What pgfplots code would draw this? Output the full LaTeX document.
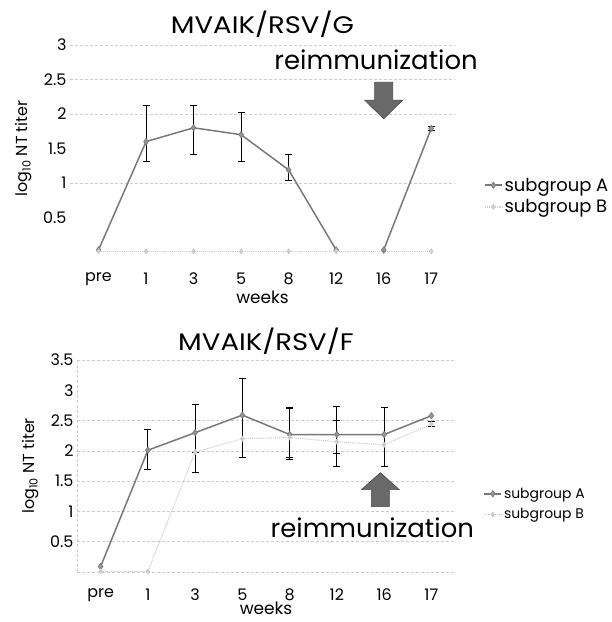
\documentclass[border=0pt]{standalone}
\usepackage{pgfplots}
\pgfplotsset{compat=1.18}
\usepackage{fontspec}
\setmainfont{Poppins}
\newfontfamily\titlefont{Poppins}[FakeStretch=1.15]
\definecolor{lineA}{RGB}{120,120,120}
\definecolor{markA}{RGB}{150,150,150}
\definecolor{lineB}{RGB}{205,205,205}
\definecolor{arrowfill}{RGB}{105,105,105}
\pgfplotsset{
  common/.style={
    scale only axis,
    ymin=0,
    xtick={0,...,7},
    xticklabels={pre,1,3,5,8,12,16,17},
    /pgf/number format/assume math mode=true,
    tick style={draw=none},
    ticklabel style={font=\fontsize{16}{16}\selectfont},
    xlabel={weeks},
    xlabel style={font=\fontsize{17}{17}\selectfont},
    ylabel={log\textsubscript{10} NT titer},
    ylabel style={font=\fontsize{16}{16}\selectfont, yshift=4bp},
    title style={font=\titlefont\fontsize{24}{24}\selectfont},
    grid style={lineB, densely dashed, line width=0.6pt},
    legend cell align=left,
    clip=false,
  },
  serA/.style={lineA, line width=1.5pt, mark=diamond*, mark size=3.2pt,
    mark options={fill=markA, draw=lineA, line width=0.6pt}},
  serB/.style={lineB, line width=1.1pt, densely dotted, mark=diamond*, mark size=2.2pt,
    mark options={fill=lineB, draw=lineB, solid}},
  errs/.style={draw=none, mark=none, forget plot,
    error bars/.cd, y dir=both, y explicit,
    error bar style={draw=black, line width=0.8pt, solid},
    error mark options={draw=black, rotate=90, mark size=3.5pt, line width=0.8pt}},
}
\begin{document}
\begin{tikzpicture}[x=1bp,y=1bp]
\useasboundingbox (0bp,0bp) rectangle (612bp,622bp);

% ---------------- Top chart ----------------
\begin{axis}[common,
  at={(70bp,370bp)}, anchor=south west,
  width=385bp, height=207bp,
  xmin=-0.6, xmax=7.5, ymax=3,
  ytick={0.5,1,1.5,2,2.5,3},
  yticklabels={0.5,1,1.5,2,2.5,3},
  extra y ticks={1,2,2.5,3},
  extra y tick labels={},
  extra y tick style={grid=major},
  axis line style={draw=none},
  xticklabel style={yshift=-17bp},
  xlabel style={yshift=1bp},
  title={MVAIK/RSV/G},
  title style={yshift=-2bp},
  legend style={draw=none, fill=none, at={(1.075,0.27)}, anchor=west,
    font=\fontsize{18}{18}\selectfont, row sep=3bp, inner sep=0pt},
]
\addplot[serA] coordinates {(0,0.03) (1,1.6) (2,1.8) (3,1.7) (4,1.19) (5,0.03)};
\addlegendentry{subgroup A}
\addplot[serB] coordinates {(0,0.01) (1,0.01) (2,0.01) (3,0.01) (4,0.01) (5,0.01) (6,0.01) (7,0.01)};
\addlegendentry{subgroup B}
\addplot[serA, forget plot] coordinates {(6,0.03) (7,1.79)};
\addplot[errs] coordinates {
  (1,1.6) += (0,0.53) -= (0,0.29)
  (2,1.8) += (0,0.33) -= (0,0.39)
  (3,1.7) += (0,0.33) -= (0,0.39)
  (4,1.19) += (0,0.23) -= (0,0.15)
  (7,1.79) += (0,0.03) -= (0,0.03)
};
\draw[fill=arrowfill, draw=arrowfill!70!black, line width=0.6pt]
  (axis cs:5.81,2.46) -- (axis cs:6.19,2.46) -- (axis cs:6.19,2.2)
  -- (axis cs:6.4,2.2) -- (axis cs:6,1.93) -- (axis cs:5.6,2.2)
  -- (axis cs:5.81,2.2) -- cycle;
\node[font=\fontsize{26}{26}\selectfont, inner sep=0pt] at (axis cs:5.84,2.78) {reimmunization};
\end{axis}

% ---------------- Bottom chart ----------------
\begin{axis}[common,
  at={(77bp,50bp)}, anchor=south west,
  width=378bp, height=212bp,
  xmin=-0.5, xmax=7.5, ymax=3.5,
  ytick={0.5,1,1.5,2,2.5,3,3.5},
  yticklabels={0.5,1,1.5,2,2.5,3,3.5},
  extra y ticks={0.5,1,1.5,2,2.5,3.5},
  extra y tick labels={},
  extra y tick style={grid=major},
  axis x line*=bottom, axis y line*=left,
  axis line style={lineB, densely dashed, line width=0.6pt, -},
  xticklabel style={yshift=-13bp},
  xlabel style={yshift=6bp},
  title={MVAIK/RSV/F},
  title style={yshift=-4bp},
  legend style={draw=none, fill=none, at={(1.075,0.32)}, anchor=west,
    font=\fontsize{14}{14}\selectfont, row sep=5bp, inner sep=0pt},
]
\addplot[serA] coordinates {(0,0.09) (1,2.01) (2,2.3) (3,2.59) (4,2.27) (5,2.27) (6,2.27) (7,2.58)};
\addlegendentry{subgroup A}
\addplot[serB] coordinates {(0,0.01) (1,0.01) (2,1.98) (3,2.2) (4,2.22) (5,2.15) (6,2.1) (7,2.44)};
\addlegendentry{subgroup B}
\addplot[errs] coordinates {
  (1,2.01) += (0,0.35) -= (0,0.32)
  (2,2.3) += (0,0.46) -= (0,0.66)
  (3,2.59) += (0,0.61) -= (0,0.70)
  (4,2.27) += (0,0.45) -= (0,0.41)
  (5,2.27) += (0,0.46) -= (0,0.52)
  (6,2.27) += (0,0.44) -= (0,0.53)
};
\addplot[errs] coordinates {
  (2,1.98) += (0,0) -= (0,0)
  (4,2.22) += (0,0.48) -= (0,0.33)
  (5,2.15) += (0,0.35) -= (0,0.2)
  (7,2.44) += (0,0.04) -= (0,0.04)
};
\draw[fill=arrowfill, draw=arrowfill!70!black, line width=0.6pt]
  (axis cs:5.73,1.08) -- (axis cs:6.11,1.08) -- (axis cs:6.11,1.36)
  -- (axis cs:6.32,1.36) -- (axis cs:5.92,1.64) -- (axis cs:5.52,1.36)
  -- (axis cs:5.73,1.36) -- cycle;
\node[font=\fontsize{26}{26}\selectfont, inner sep=0pt] at (axis cs:5.75,0.73) {reimmunization};
\end{axis}
\end{tikzpicture}
\end{document}
